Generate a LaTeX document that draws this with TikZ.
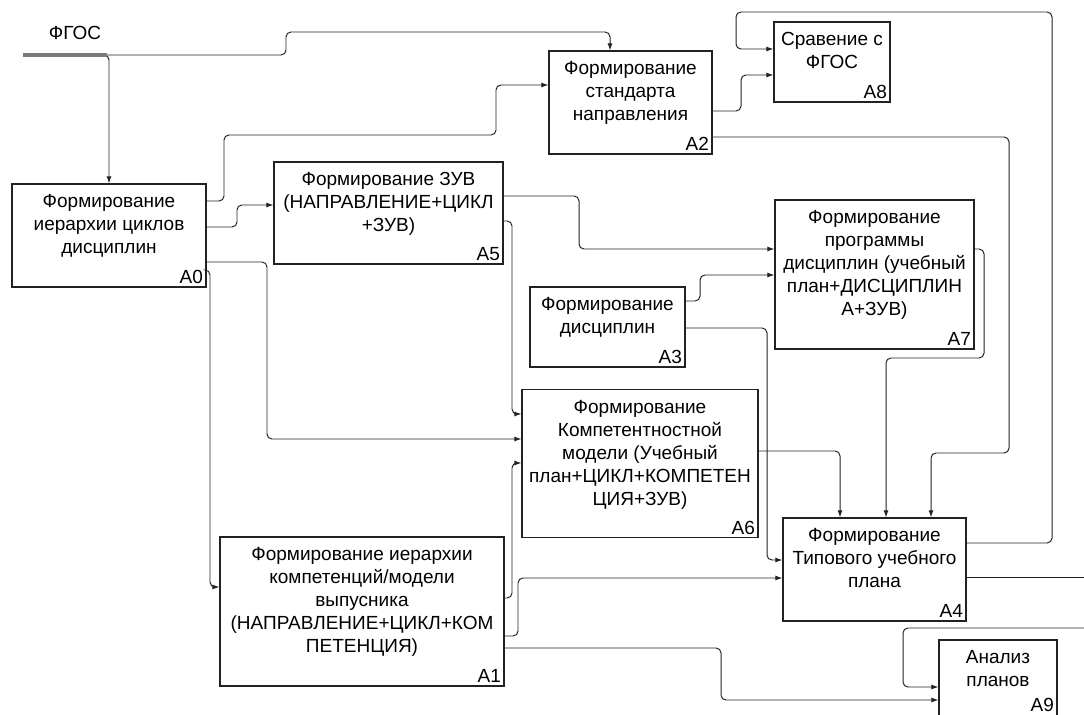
\documentclass[tikz,border=0pt]{standalone}
\usepackage{fontspec}
\setmainfont{Liberation Sans}
\usepackage{xcolor}
\usepackage{tikz}
\usetikzlibrary{arrows.meta}
\definecolor{linecolor}{HTML}{222222}
\definecolor{inputcolor}{HTML}{7a7a7a}
\tikzset{
  procbox/.style={draw=linecolor, rectangle, line width=0.9pt, fill=white, inner sep=0pt},
  proctext/.style={anchor=north, align=center, inner sep=0pt, font=\fontsize{0.475cm}{0.575cm}\selectfont},
  proclabel/.style={anchor=south east, inner sep=2.5pt, font=\fontsize{0.475cm}{0.575cm}\selectfont},
  flow/.style={draw=linecolor, line width=0.7pt, rounded corners=3.5pt, -{Latex[length=5pt,width=3.6pt]}},
  plainflow/.style={draw=linecolor, line width=0.7pt, rounded corners=3.5pt}
}

\begin{document}
\begin{tikzpicture}[x=0.025cm, y=-0.025cm]%
\useasboundingbox (0,0) rectangle (1084,715);%
\node[procbox, minimum width=194*0.025cm, minimum height=103*0.025cm] (a0) at (109, 235.5) {};%
\node[procbox, minimum width=229*0.025cm, minimum height=102*0.025cm] (a5) at (388.5, 213) {};%
\node[procbox, minimum width=163*0.025cm, minimum height=103*0.025cm] (a2) at (630.5, 102.5) {};%
\node[procbox, minimum width=116*0.025cm, minimum height=80*0.025cm] (a8) at (832, 62) {};%
\node[procbox, minimum width=199*0.025cm, minimum height=149*0.025cm] (a7) at (874.5, 274.5) {};%
\node[procbox, minimum width=155*0.025cm, minimum height=80*0.025cm] (a3) at (607.5, 327) {};%
\node[procbox, minimum width=236*0.025cm, minimum height=148*0.025cm] (a6) at (640, 463.5) {};%
\node[procbox, minimum width=284*0.025cm, minimum height=149*0.025cm] (a1) at (362, 611.5) {};%
\node[procbox, minimum width=183*0.025cm, minimum height=103*0.025cm] (a4) at (874.5, 569.5) {};%
\node[procbox, minimum width=118*0.025cm, minimum height=80*0.025cm] (a9) at (998, 680) {};%
\node[proctext] (a0text) at ([yshift=-0.27cm]a0.north) {Формирование\\иерархии циклов\\дисциплин};%
\node[proctext] (a5text) at ([yshift=-0.27cm]a5.north) {Формирование ЗУВ\\(НАПРАВЛЕНИЕ+ЦИКЛ\\+ЗУВ)};%
\node[proctext] (a2text) at ([yshift=-0.27cm]a2.north) {Формирование\\стандарта\\направления};%
\node[proctext] (a8text) at ([yshift=-0.27cm]a8.north) {Сравение с\\ФГОС};%
\node[proctext] (a7text) at ([yshift=-0.27cm]a7.north) {Формирование\\программы\\дисциплин (учебный\\план+ДИСЦИПЛИН\\А+ЗУВ)};%
\node[proctext] (a3text) at ([yshift=-0.27cm]a3.north) {Формирование\\дисциплин};%
\node[proctext] (a6text) at ([yshift=-0.27cm]a6.north) {Формирование\\Компетентностной\\модели (Учебный\\план+ЦИКЛ+КОМПЕТЕН\\ЦИЯ+ЗУВ)};%
\node[proctext] (a1text) at ([yshift=-0.27cm]a1.north) {Формирование иерархии\\компетенций/модели\\выпусника\\(НАПРАВЛЕНИЕ+ЦИКЛ+КОМ\\ПЕТЕНЦИЯ)};%
\node[proctext] (a4text) at ([yshift=-0.27cm]a4.north) {Формирование\\Типового учебного\\плана};%
\node[proctext] (a9text) at ([yshift=-0.27cm]a9.north) {Анализ\\планов};%
\node[proclabel] (a0label) at (a0.south east) {A0};%
\node[proclabel] (a5label) at (a5.south east) {A5};%
\node[proclabel] (a2label) at (a2.south east) {A2};%
\node[proclabel] (a8label) at (a8.south east) {A8};%
\node[proclabel] (a7label) at (a7.south east) {A7};%
\node[proclabel] (a3label) at (a3.south east) {A3};%
\node[proclabel] (a6label) at (a6.south east) {A6};%
\node[proclabel] (a1label) at (a1.south east) {A1};%
\node[proclabel] (a4label) at (a4.south east) {A4};%
\node[proclabel] (a9label) at (a9.east |- 0, 715) {A9};%
\coordinate (fgos) at (23, 55);%
\coordinate (fgosend) at (107, 55);%
\coordinate (planout) at (1084, 577);%
\coordinate (planin) at (1084, 628);%
\node[anchor=base, inner sep=0pt, font=\fontsize{0.475cm}{0.575cm}\selectfont] (fgoslabel) at (75, 40) {ФГОС};%
\draw[flow] (fgos) -| (a0.north);%
\draw[flow] (fgos) -| (286, 32) -| (a2.north -| 610, 0);%
\draw[line width=2.2pt, draw=inputcolor] (fgos) -- (fgosend);%
\draw[flow] (a0.east |- 0, 201) -| (224, 135) -| (496, 85) -- (a2.west |- 0, 85);%
\draw[flow] (a0.east |- 0, 227) -| (237, 205) -- (a5.west |- 0, 205);%
\draw[flow] (a0.east |- 0, 262) -| (267, 439) -- (a6.west |- 0, 439);%
\draw[flow] (a0.east |- 0, 270) -| (210, 587) -- (a1.west |- 0, 587);%
\draw[flow] (a2.east |- 0, 111) -| (741, 75) -- (a8.west |- 0, 75);%
\draw[flow] (a2.east |- 0, 137) -| (1009, 453) -| (a4.north -| 931, 0);%
\draw[flow] (a5.east |- 0, 196) -| (579, 249) -- (a7.west |- 0, 249);%
\draw[flow] (a5.east |- 0, 221) -| (512, 414) -- (a6.west |- 0, 414);%
\draw[flow] (a3.east |- 0, 301) -| (700, 275) -- (a7.west |- 0, 275);%
\draw[flow] (a3.east |- 0, 328) -| (767, 560) -- (a4.west |- 0, 560);%
\draw[flow] (a7.east |- 0, 249) -| (984, 358) -| (a4.north -| 886, 0);%
\draw[flow] (a6.east |- 0, 451) -| (a4.north -| 840, 0);%
\draw[flow] (a1.east |- 0, 598) -| (512, 463) -- (a6.west |- 0, 463);%
\draw[flow] (a1.east |- 0, 636) -| (518, 578) -- (a4.west |- 0, 578);%
\draw[flow] (a1.east |- 0, 648) -| (721, 700) -- (a9.west |- 0, 700);%
\draw[flow] (a4.east |- 0, 543) -| (1052, 12) -| (736, 49) -- (a8.west |- 0, 49);%
\draw[plainflow] (a4.east |- 0, 577) -- (planout);%
\draw[flow] (planin) -| (903, 687) -- (a9.west |- 0, 687);%
\end{tikzpicture}
\end{document}
